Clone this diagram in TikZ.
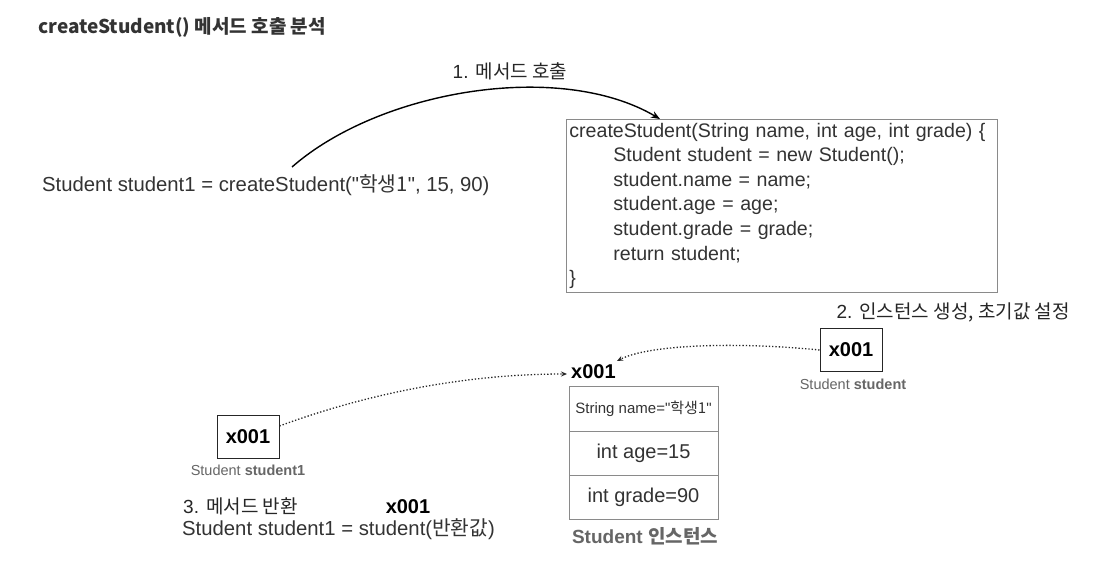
\documentclass[tikz,border=0pt]{standalone}
\usepackage{fontspec}
\setmainfont{Liberation Sans}[Ligatures=TeXOff]
\newfontfamily\kr{Noto Sans CJK KR}
\usetikzlibrary{arrows.meta}
\newcommand{\K}[1]{{\kr #1}}
\definecolor{txt}{HTML}{333333}
\definecolor{lblgray}{HTML}{666666}
\definecolor{boxgray}{HTML}{8A8A8A}
\begin{document}
\begin{tikzpicture}[x=1pt,y=-1pt,
  every node/.style={inner sep=0pt, text=txt},
  titletext/.style={font=\kr\bfseries\fontsize{19}{22}\selectfont, text=black!80},
  lbltext/.style={font=\fontsize{19}{22}\selectfont, text=black!85},
  maintext/.style={font=\fontsize{20.3}{24}\selectfont},
  codebox/.style={draw=boxgray, line width=0.8pt, align=left, text width=425pt,
    minimum height=173pt, inner xsep=3pt, inner ysep=2pt,
    font=\fontsize{19.6}{24.6}\selectfont},
  refbox/.style={draw=black!85, line width=1pt, minimum width=62pt, minimum height=43pt,
    font=\bfseries\fontsize{20}{24}\selectfont, text=black},
  smalllbl/.style={font=\fontsize{14.5}{17}\selectfont, text=lblgray},
  addrtext/.style={font=\bfseries\fontsize{20}{24}\selectfont, text=black},
  cell/.style={draw=boxgray, line width=0.8pt, minimum width=149pt,
    font=\fontsize{20}{24}\selectfont},
  solidarrow/.style={draw=black, line width=1.4pt, -{Stealth[length=9pt,width=7pt]}},
  dotarrow/.style={draw=black!85, line width=1.3pt, dotted, -{Stealth[length=6pt,width=5pt]}}
]
\useasboundingbox (0,0) rectangle (1096,564);
\fill[white] (0,0) rectangle (1096,564);

% title
\node[titletext, anchor=west] (title) at (38,27) {createStudent() 메서드 호출 분석};

% step 1
\node[lbltext] (step1) at (510,71) {1. \K{메서드 호출}};
\node[maintext, anchor=west] (call) at (42,185) {Student student1 = createStudent("\K{학생1}", 15, 90)};

% code box
\node[codebox, anchor=north west] (code) at (566,119) {createStudent(String name, int age, int grade) \{\\
\hspace*{44pt}Student student = new Student();\\
\hspace*{44pt}student.name = name;\\
\hspace*{44pt}student.age = age;\\
\hspace*{44pt}student.grade = grade;\\
\hspace*{44pt}return student;\\
\}};

\coordinate (callstart) at (292,167);
\coordinate (codein) at (660,119);
\draw[solidarrow] (callstart) .. controls (380,90) and (560,60) .. (codein);

% step 2
\node[lbltext, anchor=east] (step2) at (1070,312) {2. \K{인스턴스 생성, 초기값 설정}};
\node[refbox] (sref) at (851,350) {x001};
\node[smalllbl] (sreflbl) at (853,384) {Student \textbf{student}};

% instance
\node[addrtext, anchor=west] (addr) at (571,372) {x001};
\node[cell, minimum height=45pt, font=\fontsize{15}{18}\selectfont] (f1) at (643.5,408.5) {String name="\K{학생1}"};
\node[cell, minimum height=44pt] (f2) at (643.5,453) {int age=15};
\node[cell, minimum height=44pt] (f3) at (643.5,497) {int grade=90};
\node[font=\bfseries\fontsize{19}{22}\selectfont, text=black!60] (inst) at (645,536) {Student \K{\bfseries 인스턴스}};

\coordinate (addrin) at (617,361);
\draw[dotarrow] (sref.west) .. controls (740,342) and (650,344) .. (addrin);

% student1
\node[refbox] (s1) at (248,437) {x001};
\node[smalllbl] (s1lbl) at (248,470) {Student \textbf{student1}};
\coordinate (addrleft) at (567,374);
\draw[dotarrow] ([yshift=11pt]s1.east) .. controls (350,400) and (450,374) .. (addrleft);

% step 3
\node[lbltext, anchor=west] (step3) at (183,506) {3. \K{메서드 반환}};
\node[addrtext] (retaddr) at (408,507) {x001};
\node[maintext, anchor=west] (ret) at (182,529) {Student student1 = student(\K{반환값})};
\end{tikzpicture}
\end{document}
